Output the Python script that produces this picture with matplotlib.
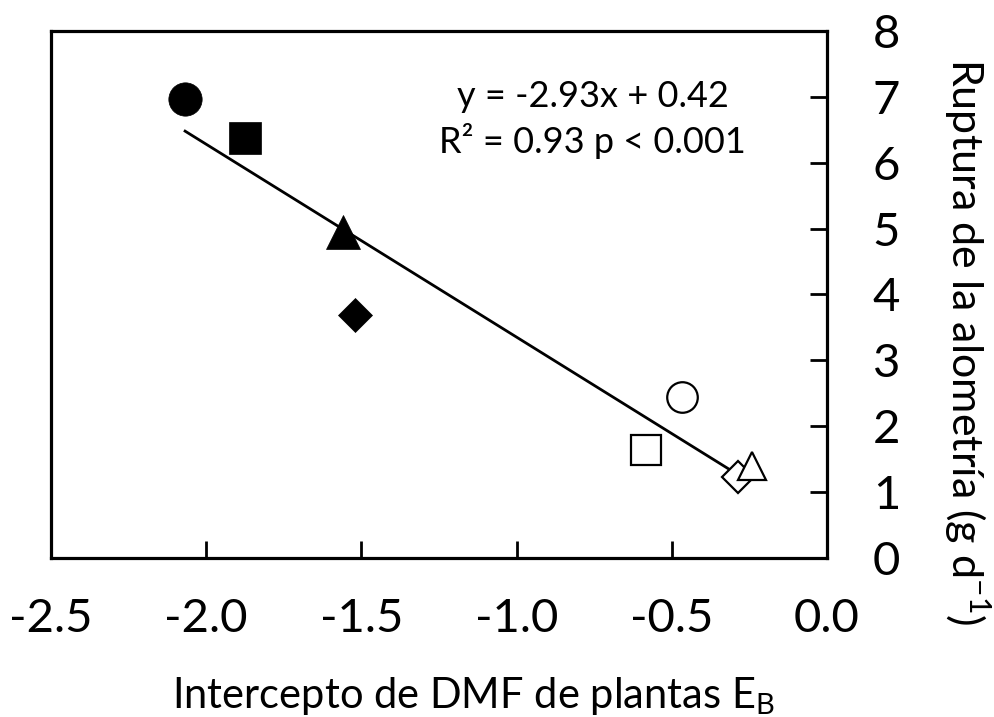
import matplotlib
matplotlib.use("Agg")
import matplotlib.pyplot as plt
import numpy as np

plt.rcParams['font.family'] = ['Lato', 'DejaVu Sans']
plt.rcParams['mathtext.fontset'] = 'custom'
plt.rcParams['mathtext.rm'] = 'Lato'

# Data
x_vals = [-2.068, -1.874, -1.558, -1.521, -0.468, -0.584, -0.286, -0.243]
y_vals = [6.97, 6.38, 4.95, 3.69, 2.44, 1.63, 1.22, 1.40]
markers = ['o', 's', '^', 'D', 'o', 's', 'D', '^']
filled = [True, True, True, True, False, False, False, False]
sizes = [24, 23, 24, 17, 22, 22, 16, 20]

slope = -2.93
intercept = 0.42
fit_x = [-2.068, -0.286]

x_ticks = [-2.5, -2.0, -1.5, -1.0, -0.5, 0.0]
x_ticklabels = ['-2.5', '-2.0', '-1.5', '-1.0', '-0.5', '0.0']
y_ticks = [0, 1, 2, 3, 4, 5, 6, 7, 8]

fig = plt.figure(figsize=(9.94, 7.17), dpi=100)
ax = fig.add_axes([51/994, 1-557.7/717, (827-51)/994, (557.7-31)/717])

fx = np.array(fit_x)
ax.plot(fx, slope*fx + intercept, color='black', lw=2.0, zorder=2)

for xv, yv, m, f, s in zip(x_vals, y_vals, markers, filled, sizes):
    ax.plot([xv], [yv], marker=m, markersize=s, linestyle='none',
            markerfacecolor='black' if f else 'white', markeredgecolor='black',
            markeredgewidth=0.5 if f else 1.6, zorder=3 if f else 4)

ax.set_xlim(-2.5, 0.0)
ax.set_ylim(0, 8)
ax.set_xticks(x_ticks)
ax.set_xticklabels(x_ticklabels)
ax.set_yticks(y_ticks)
ax.yaxis.tick_right()
ax.tick_params(axis='both', direction='in', length=12, width=2, labelsize=34,
               colors='black')
ax.tick_params(axis='x', pad=29)
ax.tick_params(axis='y', pad=33, left=False, right=True)
for sp in ax.spines.values():
    sp.set_linewidth(2.3)

ax.text(-0.755, 7.0, 'y = -2.93x + 0.42', fontsize=26, ha='center', va='center')
ax.text(-0.755, 6.33, 'R² = 0.93 p < 0.001', fontsize=26, ha='center', va='center')

fig.text(473/994, 1-708/717, 'Intercepto de DMF de plantas E$_\\mathregular{B}$',
         fontsize=30, ha='center', va='baseline')
fig.text(967/994, 1-342/717, 'Ruptura de la alometría (g d$^{\\mathregular{-1}}$)',
         fontsize=31, ha='center', va='center', rotation=-90)

fig.savefig('out.png', dpi=100)
